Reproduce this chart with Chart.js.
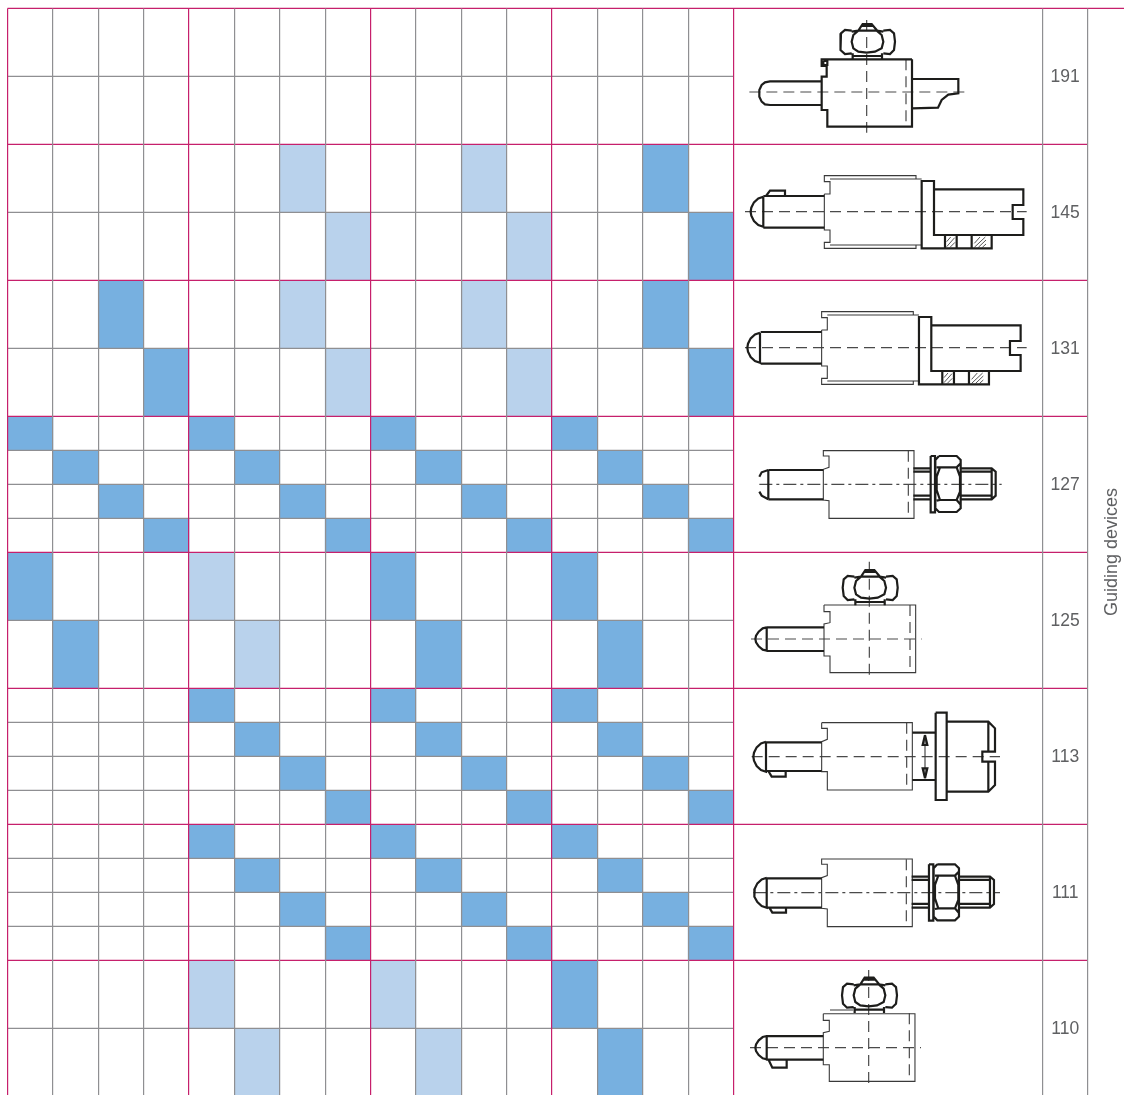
<!DOCTYPE html>
<html>
<head>
<meta charset="utf-8">
<title>Guiding devices</title>
<script src="https://cdn.jsdelivr.net/npm/chart.js@4"></script>
<style>
  html, body { margin: 0; padding: 0; background: #fff; }
  canvas { display: block; }
</style>
</head>
<body>
<canvas id="guiding" width="1124" height="1095"></canvas>
<script>
// product codes, top to bottom, and how many rows each band is split into
const bandLabels = ['191', '145', '131', '127', '125', '113', '111', '110']
const bandRows = [2, 2, 2, 4, 2, 4, 4, 2]

// [band, row, column]
const darkCells = [
  [1, 0, 14], [1, 1, 15],
  [2, 0, 2], [2, 1, 3], [2, 0, 14], [2, 1, 15],
  [3, 0, 0], [3, 1, 1], [3, 2, 2], [3, 3, 3], [3, 0, 4], [3, 1, 5], [3, 2, 6], [3, 3, 7],
  [3, 0, 8], [3, 1, 9], [3, 2, 10], [3, 3, 11], [3, 0, 12], [3, 1, 13], [3, 2, 14], [3, 3, 15],
  [4, 0, 0], [4, 1, 1], [4, 0, 8], [4, 1, 9], [4, 0, 12], [4, 1, 13],
  [5, 0, 4], [5, 1, 5], [5, 2, 6], [5, 3, 7], [5, 0, 8], [5, 1, 9], [5, 2, 10], [5, 3, 11],
  [5, 0, 12], [5, 1, 13], [5, 2, 14], [5, 3, 15],
  [6, 0, 4], [6, 1, 5], [6, 2, 6], [6, 3, 7], [6, 0, 8], [6, 1, 9], [6, 2, 10], [6, 3, 11],
  [6, 0, 12], [6, 1, 13], [6, 2, 14], [6, 3, 15],
  [7, 0, 12], [7, 1, 13]
]
const lightCells = [
  [1, 0, 6], [1, 1, 7], [1, 0, 10], [1, 1, 11],
  [2, 0, 6], [2, 1, 7], [2, 0, 10], [2, 1, 11],
  [4, 0, 4], [4, 1, 5],
  [7, 0, 4], [7, 1, 5], [7, 0, 8], [7, 1, 9]
]

const columnLines = [0, 1, 2, 3, 4, 5, 6, 7, 8, 9, 10, 11, 12, 13, 14, 15, 16]
const tableLines = [22.81, 23.81]
const sideTitle = 'Guiding devices'

// outlines of the small drawings, flat x,y lists in units of a third of a pixel,
// each one relative to the origin it is placed at below
const nutLines = [
  [365, 92, 345, 90, 333, 100, 330, 125, 333, 150, 345, 162, 365, 160],
  [460, 92, 480, 90, 492, 100, 495, 125, 492, 150, 480, 162, 460, 160],
  [385, 92, 370, 105, 365, 125, 370, 145, 385, 155, 410, 158, 435, 155, 455, 145, 460, 125, 455, 105, 440, 92, 385, 92],
  [365, 95, 385, 92], [440, 92, 460, 95],
  [385, 92, 398, 72, 425, 72, 442, 92], [392, 78, 430, 78],
  [368, 160, 368, 178], [456, 160, 456, 178], [368, 168, 456, 168]
]
const bigTip = [0, -45, -15, -40, -28, -28, -36, -12, -38, 0, -36, 12, -28, 28, -15, 40, 0, 45, 0, -45]
const smallTip = [0, -35, -12, -32, -24, -22, -32, -10, -34, 0, -32, 10, -24, 22, -12, 32, 0, 35, 0, -35]

const drawing191Heavy = [
  [546, 178, 546, 380, 292, 380, 292, 330, 275, 330, 275, 230, 290, 230, 290, 198, 275, 198, 275, 178, 546, 178],
  [280, 183, 292, 183, 292, 195, 280, 195, 280, 183],
  [275, 244, 120, 244, 105, 247, 95, 255, 88, 270, 88, 290, 95, 305, 105, 313, 120, 315, 275, 315],
  [546, 237, 685, 237, 685, 280, 655, 284, 635, 300, 624, 323, 546, 325]
]
const drawing145Heavy = [
  [100, 153, 283, 153], [100, 248, 283, 248],
  [612, 133, 880, 133, 880, 180, 848, 180, 848, 222, 880, 222, 880, 270, 612, 270, 612, 108, 575, 108, 575, 310, 785, 310, 785, 270],
  [645, 272, 645, 310], [680, 272, 680, 310], [725, 272, 725, 310]
]
const drawing145Thin = [
  [283, 147, 300, 147, 300, 110, 283, 110, 283, 92, 558, 92, 558, 102, 300, 102],
  [558, 102, 575, 102], [558, 300, 575, 300],
  [283, 147, 283, 255, 300, 255, 300, 292, 283, 292, 283, 310, 558, 310, 558, 300, 300, 300]
]
const drawing145Hatch = [
  [650, 290, 662, 276], [650, 305, 674, 278], [660, 307, 675, 292],
  [733, 295, 750, 276], [733, 307, 766, 276], [745, 307, 768, 285], [757, 307, 768, 297]
]
const knob145 = [108, 153, 120, 137, 165, 137, 165, 153]
const boltHeavy = [
  [85, 120, 250, 120], [85, 208, 250, 208],
  [520, 115, 572, 115], [520, 125, 572, 125], [520, 197, 572, 197], [520, 208, 572, 208],
  [572, 78, 585, 78, 585, 247, 572, 247, 572, 78],
  [597, 78, 650, 78, 662, 90, 662, 235, 650, 246, 597, 246, 586, 235, 586, 90, 597, 78],
  [590, 112, 600, 112, 650, 112, 662, 100],
  [600, 112, 590, 140, 590, 180, 600, 210, 650, 210, 660, 185, 660, 140, 650, 112],
  [590, 212, 600, 210], [650, 210, 662, 224],
  [662, 115, 755, 115, 767, 125, 767, 197, 755, 208, 662, 208],
  [662, 125, 755, 125], [662, 197, 755, 197], [755, 115, 755, 208]
]
const boltThin = [
  [267, 62, 522, 62, 522, 265, 267, 265, 267, 212, 250, 210, 250, 118, 267, 112, 267, 78, 250, 78, 250, 62, 267, 62]
]
const drawing113Heavy = [
  [78, 127, 245, 127], [78, 213, 245, 213],
  [85, 213, 95, 230, 137, 230, 137, 213],
  [517, 98, 585, 98], [517, 240, 585, 240],
  [587, 38, 620, 38, 620, 300, 587, 300, 587, 38],
  [620, 65, 745, 65, 765, 85, 765, 155, 727, 155, 727, 185, 765, 185, 765, 255, 745, 275, 620, 275],
  [745, 65, 745, 155], [745, 185, 745, 275],
  [555, 105, 548, 135, 562, 135, 555, 105], [555, 235, 548, 205, 562, 205, 555, 235]
]
const drawing113Thin = [
  [245, 68, 517, 68, 517, 270, 262, 270, 262, 215, 245, 215, 245, 125, 262, 118, 262, 85, 245, 85, 245, 68],
  [555, 105, 555, 235]
]
const capScrewHeavy = [[80, 217, 252, 217], [80, 288, 252, 288]]
const capScrewThin = [
  [252, 150, 527, 150, 527, 353, 270, 353, 270, 303, 252, 303, 252, 207, 270, 203, 270, 170, 252, 170, 252, 150]
]
const knob110 = [85, 283, 97, 308, 140, 308, 140, 283]
const knob111 = [88, 188, 97, 203, 138, 203, 138, 188]
const pointer110 = [270, 135, 340, 135]

// [origin x, origin y, shape list]
const heavyParts = [
  [730, 0, drawing191Heavy], [730, 0, nutLines],
  [730, 145, drawing145Heavy], [730, 145, [knob145]],
  [727.3, 281, drawing145Heavy],
  [740, 430, boltHeavy],
  [738.3, 838.3, boltHeavy], [740, 845, [knob111]],
  [740, 700, drawing113Heavy],
  [740, 555, capScrewHeavy], [732.7, 546, nutLines],
  [739.3, 963.7, capScrewHeavy], [732, 953.7, nutLines], [740, 965, [knob110]],
  // round guide tips
  [763.3, 211.7, [bigTip]], [760, 347.7, [bigTip]], [766, 756.7, [bigTip]], [766.7, 892.7, [bigTip]],
  [766.7, 639, [smallTip]], [766.7, 1047.7, [smallTip]]
]
const thinParts = [
  [730, 145, drawing145Thin], [727.3, 281, drawing145Thin],
  [740, 430, boltThin], [738.3, 838.3, boltThin],
  [740, 700, drawing113Thin],
  [740, 555, capScrewThin], [739.3, 963.7, capScrewThin],
  [740, 965, [pointer110]]
]
const tipStubs = [
  [740, 430, [[85, 120, 65, 127, 58, 140], [58, 185, 65, 197, 85, 208], [85, 120, 85, 208]]]
]
const hatchParts = [[730, 145, drawing145Hatch], [727.3, 281, drawing145Hatch]]
const dashParts = [
  [730, 0, [[58, 276, 705, 276], [410, 60, 410, 398], [528, 178, 528, 380]]],
  [730, 145, [[45, 200, 890, 200]]],
  [730, 285, [[45, 188, 890, 188]]],
  [740, 555, [[33, 252, 545, 252], [388, 20, 388, 373], [510, 150, 510, 353]]],
  [740, 700, [[35, 170, 780, 170], [500, 68, 500, 270]]],
  [740, 965, [[30, 248, 543, 248], [386, 15, 386, 365], [508, 145, 508, 349]]],
  [740, 430, [[505, 62, 505, 265]]],
  [740, 845, [[499, 43, 499, 243]]]
]
const dashDotParts = [
  [740, 430, [[58, 163, 785, 163]]],
  [740, 845, [[40, 143, 780, 143]]]
]

const cellBars = cells => cells.map(([band, row, col]) => {
  const rowSize = 4 / bandRows[band]
  const top = band * 4 + row * rowSize
  return { x: col + 0.5, y: [top, top + rowSize] }
})

const linePoints = parts => {
  const pts = []
  parts.forEach(([ox, oy, shapes]) => {
    shapes.forEach(shape => {
      for (let i = 0; i < shape.length; i += 2) {
        pts.push({ x: ox + shape[i] / 3, y: oy + shape[i + 1] / 3 })
      }
      pts.push({ x: NaN, y: NaN })
    })
  })
  return pts
}

const greyRules = []
const redRules = []
bandRows.forEach((rows, band) => {
  redRules.push({ x: 0, y: band * 4 }, { x: band === 0 ? 24.7 : tableLines[1], y: band * 4 }, { x: NaN, y: NaN })
  for (let r = 1; r < rows; r++) {
    greyRules.push({ x: 0, y: band * 4 + r * 4 / rows }, { x: 16, y: band * 4 + r * 4 / rows }, { x: NaN, y: NaN })
  }
})

const RED = '#C6206C'
const GREY = '#8F8F92'
const INK = '#1D1D1B'

const sketchLine = (data, width, color, dash) => ({
  type: 'line',
  data: data,
  xAxisID: 'xd',
  yAxisID: 'yd',
  borderColor: color,
  borderWidth: width,
  borderDash: dash || [],
  pointRadius: 0,
  fill: false,
  clip: false,
  order: 1
})
const ruleLine = (data, color) => ({
  type: 'line',
  data: data,
  borderColor: color,
  borderWidth: 1.1,
  pointRadius: 0,
  fill: false,
  clip: false,
  order: 2
})

const labelsPlugin = {
  id: 'labels',
  afterDraw(chart) {
    const { ctx, scales } = chart
    ctx.save()
    ctx.fillStyle = '#5F6062'
    ctx.font = '17.5px "Liberation Sans"'
    ctx.textAlign = 'center'
    ctx.textBaseline = 'middle'
    const x = scales.x.getPixelForValue((tableLines[0] + tableLines[1]) / 2)
    bandLabels.forEach((label, band) => {
      ctx.fillText(label, x, scales.y.getPixelForValue(band * 4 + 2) + 1)
    })
    ctx.font = '18px "Liberation Sans"'
    ctx.translate(1112, 552)
    ctx.rotate(-Math.PI / 2)
    ctx.fillText(sideTitle, 0, 0)
    ctx.restore()
  }
}

new Chart(document.querySelector('#guiding'), {
  type: 'bar',
  plugins: [labelsPlugin],
  data: {
    datasets: [
      { label: 'dark', data: cellBars(darkCells), backgroundColor: '#77B0E0', order: 3 },
      { label: 'light', data: cellBars(lightCells), backgroundColor: '#B9D2EC', order: 3 },
      ruleLine(greyRules, GREY),
      ruleLine(redRules, RED),
      sketchLine(linePoints(heavyParts), 2.2, INK),
      sketchLine(linePoints(thinParts), 1.1, '#3A3A3A'),
      sketchLine(linePoints(tipStubs), 2.2, INK),
      sketchLine(linePoints(hatchParts), 0.9, '#444444'),
      sketchLine(linePoints(dashParts), 1.2, '#4A4A4A', [11, 6]),
      sketchLine(linePoints(dashDotParts), 1.2, '#4A4A4A', [13, 4, 3, 4])
    ]
  },
  options: {
    responsive: false,
    animation: false,
    events: [],
    layout: { padding: { left: 7.5, top: 8.4, right: 0, bottom: 0 } },
    datasets: {
      bar: { grouped: false, barPercentage: 1, categoryPercentage: 1, borderWidth: 0 }
    },
    plugins: {
      legend: { display: false },
      tooltip: { enabled: false }
    },
    scales: {
      x: {
        type: 'linear',
        offset: false,
        min: 0,
        max: 24.606,
        afterBuildTicks: scale => {
          scale.ticks = columnLines.concat(tableLines).map(v => ({ value: v }))
        },
        border: { display: false },
        grid: {
          z: 1,
          offset: false,
          drawTicks: false,
          lineWidth: 1.2,
          color: ctx => (ctx.tick && columnLines.includes(ctx.tick.value) && ctx.tick.value % 4 === 0 ? RED : GREY)
        },
        ticks: { display: false }
      },
      y: {
        type: 'linear',
        display: false,
        reverse: true,
        min: 0,
        max: 31.96
      },
      xd: { type: 'linear', display: false, offset: false, min: 7.5, max: 1124 },
      yd: { type: 'linear', display: false, reverse: true, min: 8.4, max: 1095 }
    }
  }
})
</script>
</body>
</html>
